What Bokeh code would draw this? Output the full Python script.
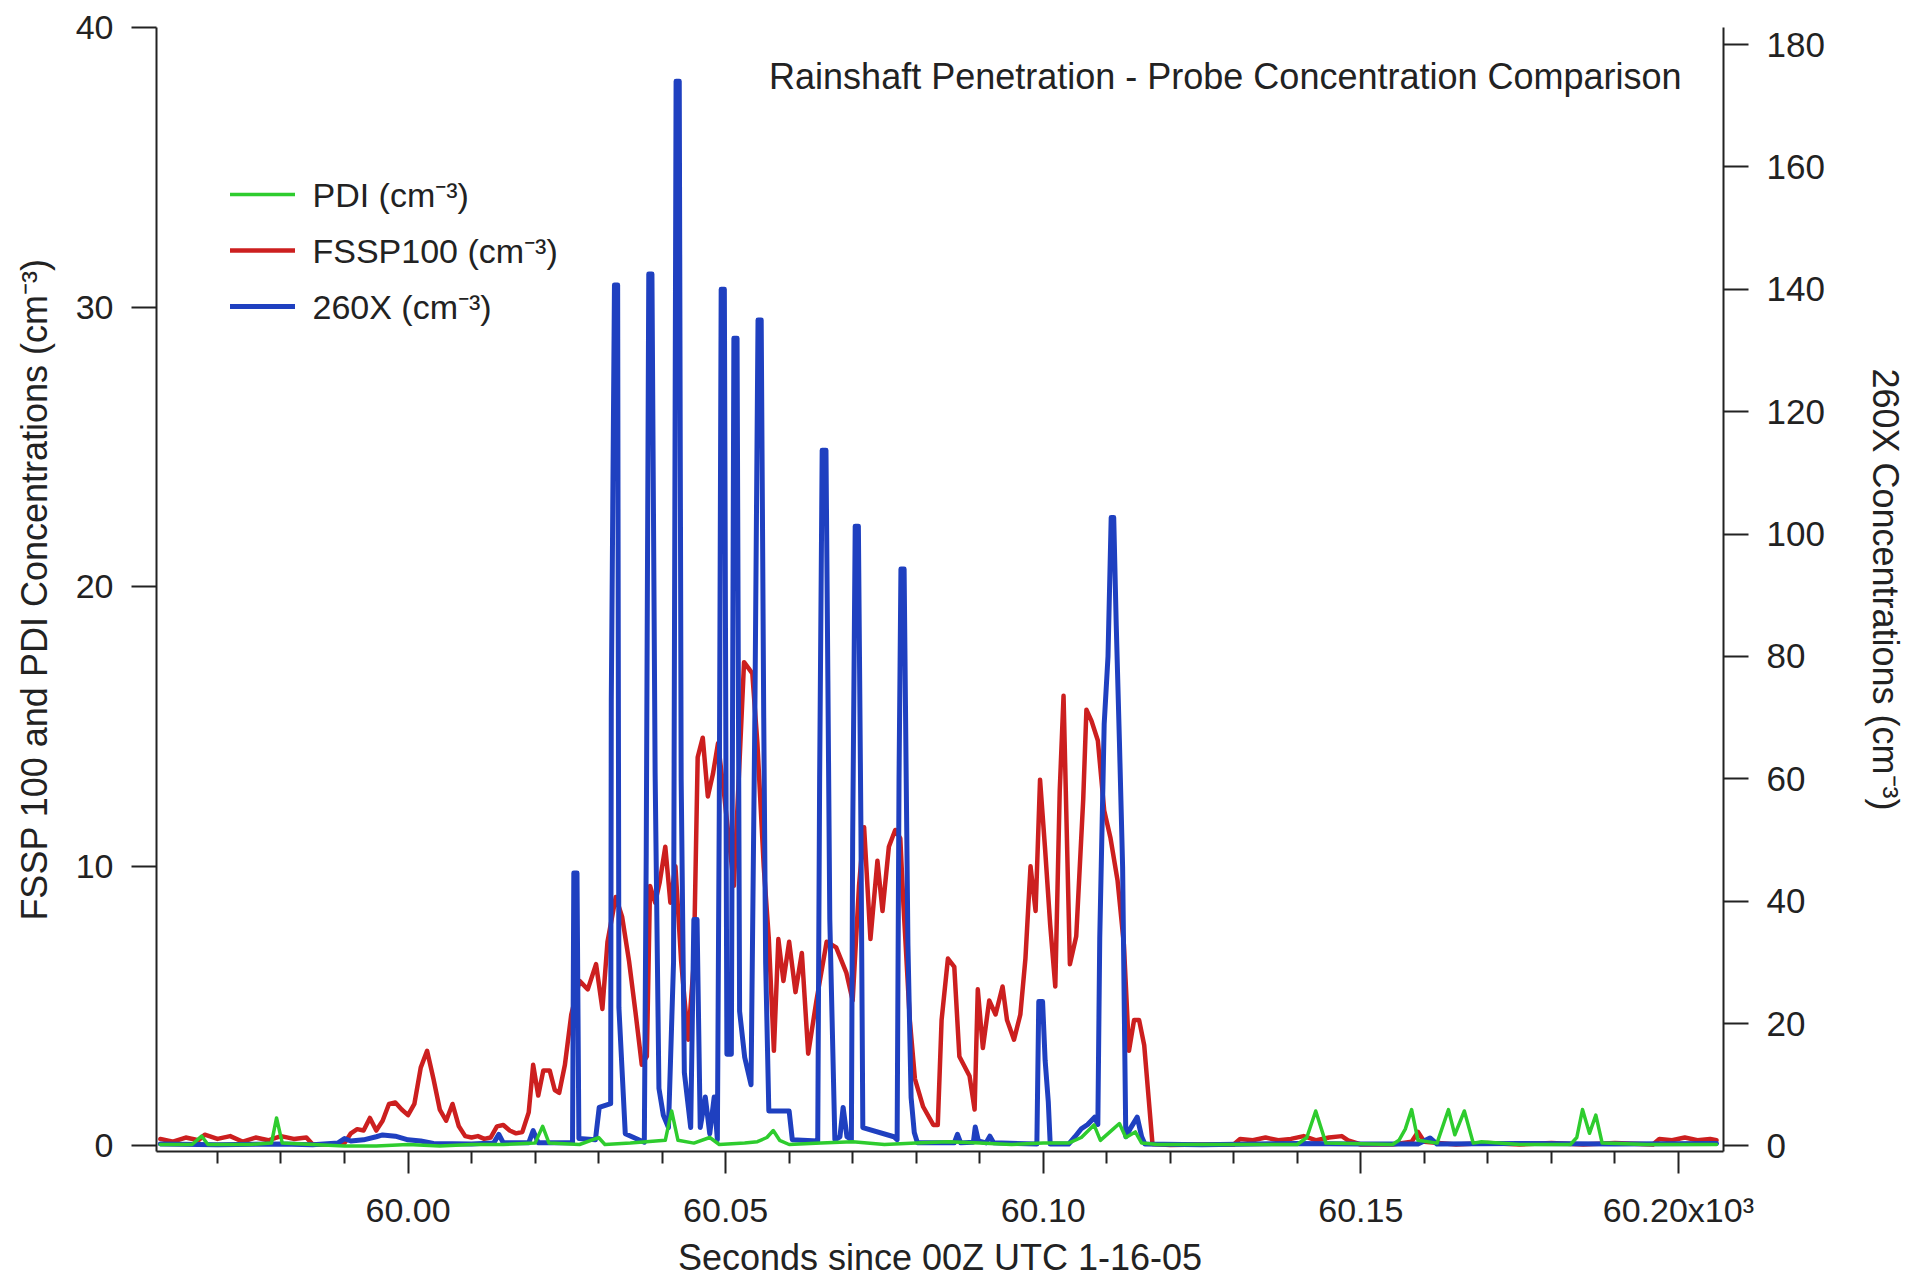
from bokeh.plotting import figure
from bokeh.models import (Range1d, LinearAxis, FixedTicker, Label, Legend, LegendItem)
from bokeh.embed import file_html
from bokeh.resources import INLINE

# ---------------- data (seconds since 00Z, concentrations) ----------------
fssp_t = [59961, 59963, 59965, 59967, 59968, 59970, 59972, 59974, 59976, 59978,
          59980, 59982, 59984, 59985, 59988, 59990, 59991, 59992, 59993, 59994,
          59995, 59996, 59997, 59998, 59999, 60000, 60001, 60002, 60003, 60004,
          60005, 60006, 60007, 60008, 60009, 60010, 60011, 60012, 60013, 60014,
          60015, 60016, 60017, 60018, 60019, 60019.7, 60020.5, 60021.3, 60022.3, 60023.1,
          60023.8, 60024.7, 60025.7, 60027, 60028.3, 60029.6, 60030.6, 60031.4, 60032.7, 60033.7,
          60034.8, 60035.8, 60036.8, 60037.6, 60038.1, 60038.9, 60039.6, 60040.5, 60041.3, 60042.1,
          60043.0, 60044.1, 60045.0, 60045.6, 60046.4, 60047.2, 60048.0, 60048.8, 60049.8, 60051.3,
          60052.9, 60054.2, 60055.0, 60056.0, 60056.8, 60057.6, 60058.3, 60059.1, 60060.0, 60061.0,
          60062.0, 60063.0, 60064.3, 60065.9, 60067.4, 60069.0, 60070.0, 60071.0, 60071.8, 60072.8,
          60073.9, 60074.7, 60075.7, 60076.7, 60077.5, 60078.0, 60079.0, 60079.8, 60081.1, 60082.7,
          60083.4, 60084.0, 60085.0, 60086.0, 60086.8, 60088.4, 60089.2, 60089.7, 60090.5, 60091.5,
          60092.5, 60093.6, 60094.3, 60095.4, 60096.4, 60097.2, 60098.0, 60098.8, 60099.5, 60100.3,
          60101.1, 60101.9, 60102.6, 60103.2, 60103.7, 60104.2, 60105.2, 60106.3, 60106.8, 60107.6,
          60108.6, 60109.6, 60110.6, 60111.7, 60112.7, 60113.5, 60114.3, 60115.1, 60115.9, 60116.6,
          60117.2, 60120, 60125, 60130, 60131, 60133, 60135, 60137, 60139, 60141,
          60143, 60145, 60147, 60148, 60150, 60155, 60158, 60159, 60160, 60165,
          60170, 60175, 60180, 60185, 60190, 60196, 60197, 60199, 60201, 60203,
          60205, 60206]
fssp_v = [0.25, 0.15, 0.30, 0.20, 0.40, 0.25, 0.35, 0.15, 0.30, 0.20,
          0.35, 0.25, 0.30, 0.05, 0.05, 0.10, 0.45, 0.60, 0.55, 1.00,
          0.55, 0.90, 1.50, 1.55, 1.30, 1.10, 1.50, 2.80, 3.40, 2.40,
          1.30, 0.90, 1.50, 0.70, 0.35, 0.30, 0.35, 0.25, 0.30, 0.70,
          0.75, 0.55, 0.45, 0.50, 1.20, 2.9, 1.8, 2.7, 2.7, 2.0,
          1.9, 2.9, 4.7, 5.9, 5.6, 6.5, 4.9, 7.3, 8.9, 8.2,
          6.6, 4.8, 2.9, 3.2, 9.3, 8.7, 9.4, 10.7, 8.7, 10.0,
          6.6, 3.8, 6.6, 13.9, 14.6, 12.5, 13.3, 14.4, 12.5, 9.3,
          17.3, 16.9, 14.4, 10.0, 7.4, 3.4, 7.4, 5.9, 7.3, 5.5,
          6.9, 3.3, 5.2, 7.3, 7.1, 6.2, 5.2, 9.3, 11.4, 7.4,
          10.2, 8.4, 10.7, 11.3, 11.0, 8.6, 4.5, 2.4, 1.4, 0.75,
          0.75, 4.5, 6.7, 6.4, 3.2, 2.5, 1.3, 5.6, 3.5, 5.2,
          4.7, 5.7, 4.5, 3.8, 4.7, 6.7, 10.0, 8.4, 13.1, 10.6,
          7.9, 5.7, 12.7, 16.1, 11.3, 6.5, 7.5, 12.4, 15.6, 15.2,
          14.5, 12.0, 11.0, 9.5, 7.2, 3.4, 4.5, 4.5, 3.6, 1.7,
          0.07, 0.03, 0.05, 0.05, 0.25, 0.20, 0.30, 0.20, 0.25, 0.35,
          0.20, 0.30, 0.35, 0.20, 0.05, 0.05, 0.15, 0.50, 0.15, 0.05,
          0.10, 0.05, 0.10, 0.05, 0.10, 0.05, 0.25, 0.20, 0.30, 0.20,
          0.25, 0.20]

pdi_t = [59961, 59966, 59967.5, 59968.5, 59975, 59978.5, 59979.3, 59980.2, 59985, 59990,
         59995, 60000, 60005, 60010, 60015, 60020, 60021.2, 60022.2, 60027, 60030,
         60031, 60035, 60040.5, 60041.5, 60042.5, 60045, 60047.5, 60049, 60053, 60055,
         60056.5, 60057.5, 60058.5, 60060, 60065, 60070, 60075, 60080, 60085, 60090,
         60095, 60100, 60104, 60106, 60108, 60109, 60111, 60112, 60113, 60114.5,
         60115.5, 60118, 60125, 60140, 60141.5, 60142.9, 60144.5, 60155, 60156, 60157,
         60158, 60159, 60162, 60163.8, 60164.8, 60166.3, 60167.7, 60169, 60175, 60183,
         60184, 60184.9, 60186, 60187, 60188, 60195, 60206]
pdi_v = [0.05, 0.05, 0.35, 0.05, 0.05, 0.10, 1.00, 0.10, 0.05, 0.00,
         0.00, 0.05, 0.00, 0.05, 0.05, 0.10, 0.70, 0.10, 0.05, 0.30,
         0.05, 0.10, 0.20, 1.25, 0.20, 0.10, 0.30, 0.05, 0.10, 0.15,
         0.30, 0.55, 0.20, 0.05, 0.10, 0.15, 0.05, 0.10, 0.15, 0.10,
         0.05, 0.10, 0.10, 0.30, 0.75, 0.20, 0.60, 0.80, 0.30, 0.50,
         0.10, 0.05, 0.05, 0.05, 0.30, 1.25, 0.10, 0.05, 0.20, 0.60,
         1.30, 0.20, 0.10, 1.30, 0.40, 1.25, 0.10, 0.15, 0.05, 0.05,
         0.30, 1.30, 0.45, 1.10, 0.10, 0.05, 0.05]

x260_t = [59961, 59970, 59980, 59985, 59989, 59990, 59991, 59993, 59995, 59996,
          59998, 60000, 60002, 60004, 60010, 60013.5, 60014.3, 60015, 60019, 60019.7,
          60020.5, 60025.9, 60026.1, 60026.6, 60026.9, 60029.5, 60030.1, 60031.9, 60032.0, 60032.5,
          60033.0, 60033.2, 60034.2, 60037.2, 60037.5, 60037.9, 60038.4, 60038.9, 60039.5, 60040.2,
          60041.0, 60041.8, 60042.2, 60042.7, 60043.0, 60043.5, 60044.5, 60045.0, 60045.5, 60046.0,
          60046.8, 60047.5, 60048.2, 60048.7, 60049.0, 60049.3, 60049.8, 60050.2, 60050.9, 60051.3,
          60051.8, 60052.2, 60053.0, 60054.0, 60054.6, 60055.1, 60055.6, 60056.0, 60056.3, 60056.8,
          60060.0, 60060.5, 60064.5, 60064.8, 60065.2, 60065.8, 60066.1, 60066.4, 60067.2, 60068.0,
          60068.5, 60069.1, 60069.8, 60070.0, 60070.4, 60070.9, 60071.3, 60071.6, 60076.5, 60077.0,
          60077.3, 60077.6, 60078.1, 60078.4, 60078.7, 60079.2, 60079.7, 60080.2, 60086.0, 60086.5,
          60087.0, 60089.0, 60089.3, 60089.8, 60091.0, 60091.6, 60092.2, 60099.0, 60099.3, 60099.9,
          60100.3, 60100.8, 60101.1, 60104.0, 60105.0, 60106.0, 60107.0, 60108.1, 60108.6, 60108.9,
          60109.6, 60110.2, 60110.7, 60111.1, 60111.5, 60112.0, 60112.5, 60113.0, 60113.8, 60114.8,
          60115.5, 60116.0, 60125, 60140, 60150, 60159, 60160.9, 60162, 60175, 60190,
          60206]
x260_v = [0.3, 0.2, 0.3, 0.2, 0.5, 1.2, 0.8, 1.0, 1.5, 1.8,
          1.6, 1.0, 0.8, 0.4, 0.3, 0.5, 1.9, 0.5, 0.5, 2.5,
          0.5, 0.5, 44.6, 44.6, 1.2, 1.0, 6.3, 6.9, 73, 140.7,
          140.7, 22.6, 2.0, 0.6, 47.8, 142.5, 142.5, 61, 9.4, 5.0,
          3.0, 30, 174, 174, 60, 12, 3.0, 37, 37, 3.0,
          8.0, 2.0, 8.0, 1.0, 55, 140, 140, 15, 15, 132,
          132, 22, 14.5, 10, 70, 135, 135, 70, 30, 5.7,
          5.7, 1.0, 0.8, 60, 113.7, 113.7, 76, 37, 1.0, 1.5,
          6.3, 1.5, 1.0, 50, 101.3, 101.3, 52, 3.0, 1.5, 1.0,
          60, 94.3, 94.3, 63, 33, 7.9, 2.2, 0.5, 0.5, 1.9,
          0.5, 0.6, 3.1, 0.8, 0.5, 1.6, 0.5, 0.3, 23.6, 23.6,
          14, 7.2, 0.3, 0.3, 1.5, 2.8, 3.5, 4.7, 3.5, 34,
          69, 80, 102.7, 102.7, 85, 66, 45.6, 1.5, 3.0, 4.7,
          1.5, 0.3, 0.2, 0.4, 0.3, 0.3, 1.3, 0.3, 0.4, 0.3,
          0.4]

x_major = [60000, 60050, 60100, 60150, 60200]
x_labels = ["60.00", "60.05", "60.10", "60.15", "60.20x10\u00b3"]
x_minor = [59970, 59980, 59990, 60010, 60020, 60030, 60040, 60060, 60070, 60080,
           60090, 60110, 60120, 60130, 60140, 60160, 60170, 60180, 60190]
left_ticks = [0, 10, 20, 30, 40]
right_ticks = [0, 20, 40, 60, 80, 100, 120, 140, 160, 180]

title_text = "Rainshaft Penetration - Probe Concentration Comparison"
names = ["PDI (cm\u207b\u00b3)", "FSSP100 (cm\u207b\u00b3)", "260X (cm\u207b\u00b3)"]

# ---------------- styling ----------------
FONT = "Liberation Sans"
TXT = "#222222"
GREEN, RED, BLUE = "#2ecc2e", "#cc1f1f", "#1f40c0"

p = figure(width=1908, height=1280, output_backend="svg", toolbar_location=None,
           x_range=Range1d(59960.4, 60207.1), y_range=Range1d(-0.2, 40),
           min_border_left=156, min_border_right=182, min_border_top=27,
           min_border_bottom=127)
p.outline_line_color = None
p.xgrid.visible = False
p.ygrid.visible = False
p.extra_y_ranges = {"r": Range1d(-0.91, 182.8)}

def style_axis(ax, tick_out, label_size="34px"):
    ax.axis_line_color = TXT
    ax.axis_line_width = 2
    ax.major_tick_line_color = TXT
    ax.major_tick_line_width = 2
    ax.major_tick_in = 0
    ax.major_tick_out = tick_out
    ax.minor_tick_in = 0
    ax.major_label_text_font = FONT
    ax.major_label_text_font_size = label_size
    ax.major_label_text_color = TXT
    ax.axis_label_text_font = FONT
    ax.axis_label_text_font_size = "36px"
    ax.axis_label_text_font_style = "normal"
    ax.axis_label_text_color = TXT

# x axis
xa = p.xaxis[0]
style_axis(xa, 22)
xa.ticker = FixedTicker(ticks=x_major, minor_ticks=x_minor)
xa.major_label_overrides = {t: s for t, s in zip(x_major, x_labels)}
xa.minor_tick_out = 12
xa.minor_tick_line_color = TXT
xa.minor_tick_line_width = 2
xa.major_label_standoff = 17
xa.axis_label = "Seconds since 00Z UTC 1-16-05"
xa.axis_label_standoff = 5

# left axis
ya = p.yaxis[0]
style_axis(ya, 25)
ya.ticker = FixedTicker(ticks=left_ticks)
ya.minor_tick_line_color = None
ya.major_label_standoff = 18
ya.axis_label = "FSSP 100 and PDI Concentrations (cm\u207b\u00b3)"
ya.axis_label_standoff = 18

# right axis
ra = LinearAxis(y_range_name="r")
style_axis(ra, 25, "35px")
ra.ticker = FixedTicker(ticks=right_ticks)
ra.minor_tick_line_color = None
ra.major_label_standoff = 18
ra.axis_label = "260X Concentrations (cm\u207b\u00b3)"
ra.axis_label_standoff = 37
p.add_layout(ra, "right")

# series
r_red = p.line(fssp_t, fssp_v, line_color=RED, line_width=4.5, line_join="round", line_cap="round")
r_blue = p.line(x260_t, x260_v, line_color=BLUE, line_width=5, line_join="round",
                line_cap="round", y_range_name="r")
r_green = p.line(pdi_t, pdi_v, line_color=GREEN, line_width=3.5, line_join="round", line_cap="round")

# title inside the plot
p.add_layout(Label(x=60200.5, y=38.25, text=title_text, text_align="right",
                   text_baseline="alphabetic", text_font=FONT, text_font_size="36px",
                   text_color=TXT))

legend = Legend(items=[LegendItem(label=names[0], renderers=[r_green]),
                       LegendItem(label=names[1], renderers=[r_red]),
                       LegendItem(label=names[2], renderers=[r_blue])],
                location=(73.5, 817), padding=0, margin=0, spacing=0,
                glyph_width=65, glyph_height=56, label_height=56, label_standoff=18,
                label_text_font=FONT, label_text_font_size="34px", label_text_color=TXT,
                border_line_alpha=0, background_fill_alpha=0)
p.add_layout(legend)

open("out.html", "w").write(file_html(p, INLINE))
